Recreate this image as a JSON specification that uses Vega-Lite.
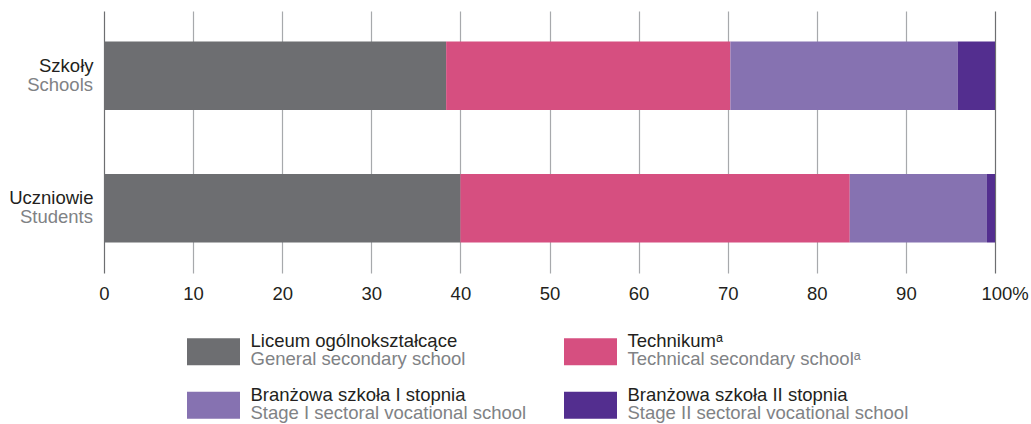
{
  "$schema": "https://vega.github.io/schema/vega-lite/v6.json",
  "padding": {"left": 8, "top": 11, "right": 0, "bottom": 0},
  "background": "white",
  "config": {"view": {"stroke": null}, "font": "Liberation Sans"},
  "spacing": 0,
  "datasets": {
    "shares": [
      {"cat": "Szkoły", "type": "Liceum ogólnokształcące", "ord": 1, "value": 38.4},
      {"cat": "Szkoły", "type": "Technikum", "ord": 2, "value": 31.9},
      {"cat": "Szkoły", "type": "Branżowa szkoła I stopnia", "ord": 3, "value": 25.5},
      {"cat": "Szkoły", "type": "Branżowa szkoła II stopnia", "ord": 4, "value": 4.2},
      {"cat": "Uczniowie", "type": "Liceum ogólnokształcące", "ord": 1, "value": 40.0},
      {"cat": "Uczniowie", "type": "Technikum", "ord": 2, "value": 43.7},
      {"cat": "Uczniowie", "type": "Branżowa szkoła I stopnia", "ord": 3, "value": 15.4},
      {"cat": "Uczniowie", "type": "Branżowa szkoła II stopnia", "ord": 4, "value": 0.9}
    ],
    "cats": [
      {"cat": "Szkoły", "en": "Schools"},
      {"cat": "Uczniowie", "en": "Students"}
    ],
    "legend": [
      {"type": "Liceum ogólnokształcące", "col": 1, "row": 1, "pl": "Liceum ogólnokształcące", "en": "General secondary school"},
      {"type": "Technikum", "col": 2, "row": 1, "pl": "Technikumᵃ", "en": "Technical secondary schoolᵃ"},
      {"type": "Branżowa szkoła I stopnia", "col": 1, "row": 2, "pl": "Branżowa szkoła I stopnia", "en": "Stage I sectoral vocational school"},
      {"type": "Branżowa szkoła II stopnia", "col": 2, "row": 2, "pl": "Branżowa szkoła II stopnia", "en": "Stage II sectoral vocational school"}
    ]
  },
  "vconcat": [
    {
      "width": 891,
      "height": 262,
      "layer": [
        {
          "data": {"name": "shares"},
          "mark": {"type": "bar"},
          "encoding": {
            "y": {
              "field": "cat", "type": "nominal", "sort": ["Szkoły", "Uczniowie"],
              "scale": {"paddingInner": 0.483, "paddingOuter": 0.23},
              "axis": {
                "title": null, "ticks": false, "domain": false, "grid": false,
                "labelFontSize": 18.5, "labelColor": "#231f20", "labelPadding": 11,
                "labelBaseline": "alphabetic", "labelOffset": -4
              }
            },
            "x": {
              "field": "value", "type": "quantitative", "stack": "zero",
              "scale": {"domain": [0, 100], "nice": false},
              "axis": {
                "title": null, "values": [0, 10, 20, 30, 40, 50, 60, 70, 80, 90, 100],
                "domain": false, "ticks": false, "grid": true,
                "gridColor": {"condition": {"test": "datum.value == 0 || datum.value == 100", "value": "#6d6e71"}, "value": "#a7a9ac"},
                "gridWidth": 1.2,
                "labelFontSize": 18.5, "labelColor": "#231f20", "labelPadding": 11,
                "labelExpr": "datum.value == 100 ? '100%' : datum.label",
                "labelAlign": {"condition": {"test": "datum.value == 100", "value": "left"}, "value": "center"},
                "labelOffset": {"condition": {"test": "datum.value == 100", "value": -14}, "value": 0}
              }
            },
            "color": {
              "field": "type", "type": "nominal",
              "scale": {
                "domain": ["Liceum ogólnokształcące", "Technikum", "Branżowa szkoła I stopnia", "Branżowa szkoła II stopnia"],
                "range": ["#6d6e71", "#d64f80", "#8672b1", "#532e8f"]
              },
              "legend": null
            },
            "order": {"field": "ord", "type": "quantitative"}
          }
        },
        {
          "data": {"name": "cats"},
          "mark": {"type": "text", "align": "right", "baseline": "alphabetic", "dx": -11, "dy": 15, "fontSize": 18.5, "color": "#808285"},
          "encoding": {
            "y": {"field": "cat", "type": "nominal", "sort": ["Szkoły", "Uczniowie"]},
            "x": {"datum": 0},
            "text": {"field": "en"}
          }
        }
      ]
    },
    {
      "width": 891,
      "height": 118,
      "data": {"name": "legend"},
      "layer": [
        {
          "mark": {"type": "bar", "width": 53, "height": 27},
          "encoding": {
            "x": {"field": "col", "type": "ordinal", "scale": {"type": "point", "padding": 0, "domain": [1, 2], "range": [109.5, 486.5]}, "axis": null},
            "y": {"field": "row", "type": "ordinal", "scale": {"type": "point", "padding": 0, "domain": [1, 2], "range": [48.75, 102.25]}, "axis": null},
            "color": {"field": "type", "type": "nominal", "legend": null}
          }
        },
        {
          "mark": {"type": "text", "align": "left", "baseline": "alphabetic", "dx": 37, "dy": -4.5, "fontSize": 18.5, "color": "#231f20"},
          "encoding": {
            "x": {"field": "col", "type": "ordinal", "scale": {"type": "point", "padding": 0, "domain": [1, 2], "range": [109.5, 486.5]}, "axis": null},
            "y": {"field": "row", "type": "ordinal", "scale": {"type": "point", "padding": 0, "domain": [1, 2], "range": [48.75, 102.25]}, "axis": null},
            "text": {"field": "pl"}
          }
        },
        {
          "mark": {"type": "text", "align": "left", "baseline": "alphabetic", "dx": 37, "dy": 13.5, "fontSize": 18.5, "color": "#808285"},
          "encoding": {
            "x": {"field": "col", "type": "ordinal", "scale": {"type": "point", "padding": 0, "domain": [1, 2], "range": [109.5, 486.5]}, "axis": null},
            "y": {"field": "row", "type": "ordinal", "scale": {"type": "point", "padding": 0, "domain": [1, 2], "range": [48.75, 102.25]}, "axis": null},
            "text": {"field": "en"}
          }
        }
      ]
    }
  ]
}
